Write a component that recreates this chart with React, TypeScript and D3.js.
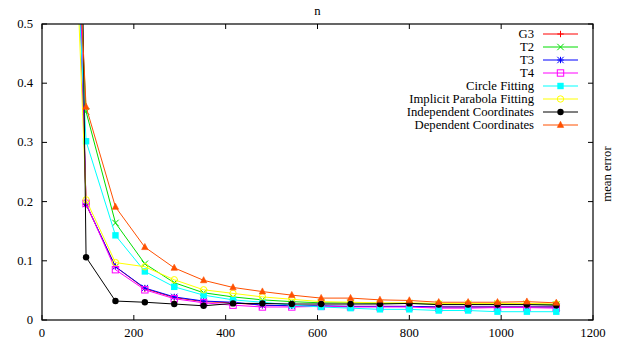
import React from "react";
import * as d3 from "d3";

const nValues = [32, 96, 160, 224, 288, 352, 416, 480, 544, 608, 672, 736, 800, 864, 928, 992, 1056, 1120];

const g3 = [1.9, 0.195, 0.09, 0.053, 0.038, 0.031, 0.029, 0.025, 0.024, 0.023, 0.023, 0.023, 0.023, 0.022, 0.022, 0.022, 0.022, 0.022];
const t2 = [1.4, 0.352, 0.164, 0.095, 0.063, 0.046, 0.039, 0.034, 0.031, 0.029, 0.029, 0.028, 0.028, 0.027, 0.027, 0.027, 0.027, 0.026];
const t3 = [1.9, 0.196, 0.09, 0.054, 0.039, 0.032, 0.03, 0.025, 0.024, 0.024, 0.023, 0.023, 0.023, 0.022, 0.022, 0.022, 0.022, 0.022];
const t4 = [1.97, 0.197, 0.085, 0.051, 0.036, 0.029, 0.025, 0.022, 0.022, 0.023, 0.022, 0.022, 0.022, 0.02, 0.02, 0.021, 0.021, 0.02];
const circleFit = [1.27, 0.302, 0.143, 0.082, 0.056, 0.042, 0.034, 0.03, 0.025, 0.022, 0.02, 0.018, 0.018, 0.016, 0.016, 0.014, 0.014, 0.014];
const parabolaFit = [1.45, 0.203, 0.097, 0.09, 0.068, 0.051, 0.045, 0.039, 0.035, 0.031, 0.03, 0.029, 0.029, 0.028, 0.028, 0.028, 0.028, 0.027];
const independent = [3.95, 0.106, 0.032, 0.03, 0.027, 0.024, 0.028, 0.028, 0.027, 0.027, 0.027, 0.027, 0.028, 0.026, 0.026, 0.026, 0.026, 0.025];
const dependent = [1.39, 0.36, 0.191, 0.123, 0.088, 0.067, 0.055, 0.048, 0.042, 0.037, 0.037, 0.034, 0.033, 0.03, 0.03, 0.03, 0.031, 0.029];

const seriesNames = ["G3", "T2", "T3", "T4", "Circle Fitting", "Implicit Parabola Fitting", "Independent Coordinates", "Dependent Coordinates"];
const seriesValues = [g3, t2, t3, t4, circleFit, parabolaFit, independent, dependent];
const seriesColors = ["#ff0000", "#00dd00", "#0000ff", "#ff00ff", "#00ffff", "#ffff00", "#000000", "#ff5000"];
const seriesMarkers = ["plus", "cross", "star", "openSquare", "square", "openCircle", "circle", "triangle"];

const xTicks = [0, 200, 400, 600, 800, 1000, 1200];
const yTicks = [0, 0.1, 0.2, 0.3, 0.4, 0.5];

const W = 623;
const H = 344;
const margin = { top: 24, right: 30, bottom: 24, left: 42 };
const FONT = "'Liberation Serif', 'DejaVu Serif', serif";
const FS = 12.7;

function Marker({ kind, x, y, color }: { kind: string; x: number; y: number; color: string }) {
  const s = 3.2;
  switch (kind) {
    case "plus":
      return <path d={`M${x - s},${y}H${x + s}M${x},${y - s}V${y + s}`} stroke={color} strokeWidth={1} />;
    case "cross":
      return <path d={`M${x - s},${y - s}L${x + s},${y + s}M${x - s},${y + s}L${x + s},${y - s}`} stroke={color} strokeWidth={1} />;
    case "star":
      return (
        <path
          d={`M${x - s},${y}H${x + s}M${x},${y - s}V${y + s}M${x - s},${y - s}L${x + s},${y + s}M${x - s},${y + s}L${x + s},${y - s}`}
          stroke={color}
          strokeWidth={1}
        />
      );
    case "openSquare":
      return <rect x={x - s} y={y - s} width={2 * s} height={2 * s} fill="none" stroke={color} strokeWidth={1} />;
    case "square":
      return <rect x={x - s} y={y - s} width={2 * s} height={2 * s} fill={color} />;
    case "openCircle":
      return <circle cx={x} cy={y} r={s} fill="none" stroke={color} strokeWidth={1} />;
    case "circle":
      return <circle cx={x} cy={y} r={s} fill={color} />;
    default:
      return <path d={`M${x},${y - s - 0.5}L${x + s},${y + s - 0.8}L${x - s},${y + s - 0.8}Z`} fill={color} stroke={color} strokeWidth={0.6} />;
  }
}

export default function App() {
  const x = d3.scaleLinear().domain([0, 1200]).range([margin.left, W - margin.right]);
  const y = d3.scaleLinear().domain([0, 0.5]).range([H - margin.bottom, margin.top]);
  const line = d3
    .line<number>()
    .x((_, i) => x(nValues[i]))
    .y((d) => y(d));

  const x0 = margin.left;
  const x1 = W - margin.right;
  const y0 = H - margin.bottom;
  const y1 = margin.top;
  const tick = 5;

  const legendTextX = 534;
  const legendLine = [543, 578];
  const legendY0 = 34;
  const legendStep = 13;

  return (
    <svg width={W} height={H} style={{ position: "absolute", left: 0, top: 0, background: "#fff" }} fontFamily={FONT}>
      <defs>
        <clipPath id="plot-clip">
          <rect x={x0} y={y1} width={x1 - x0} height={y0 - y1} />
        </clipPath>
      </defs>

      {/* ticks, mirrored on all four sides */}
      {xTicks.map((t) => (
        <g key={"x" + t}>
          <line x1={x(t)} x2={x(t)} y1={y0} y2={y0 - tick} stroke="#000" />
          <line x1={x(t)} x2={x(t)} y1={y1} y2={y1 + tick} stroke="#000" />
          <text x={x(t)} y={337} textAnchor="middle" fontSize={FS}>
            {t}
          </text>
        </g>
      ))}
      {yTicks.map((t) => (
        <g key={"y" + t}>
          <line x1={x0} x2={x0 + tick} y1={y(t)} y2={y(t)} stroke="#000" />
          <line x1={x1} x2={x1 - tick} y1={y(t)} y2={y(t)} stroke="#000" />
          <text x={33} y={y(t) + 4} textAnchor="end" fontSize={FS}>
            {d3.format("")(t)}
          </text>
        </g>
      ))}

      <g clipPath="url(#plot-clip)">
        {seriesValues.map((vals, si) => (
          <g key={seriesNames[si]}>
            <path d={line(vals) ?? ""} fill="none" stroke={seriesColors[si]} strokeWidth={1} />
            {vals.map((v, i) => (
              <Marker key={i} kind={seriesMarkers[si]} x={x(nValues[i])} y={y(v)} color={seriesColors[si]} />
            ))}
          </g>
        ))}
      </g>

      <rect x={x0} y={y1} width={x1 - x0} height={y0 - y1} fill="none" stroke="#000" strokeWidth={1.2} />

      {seriesNames.map((name, si) => {
        const ly = legendY0 + si * legendStep;
        return (
          <g key={"leg" + name}>
            <text x={legendTextX} y={ly + 4} textAnchor="end" fontSize={FS}>
              {name}
            </text>
            <line x1={legendLine[0]} x2={legendLine[1]} y1={ly} y2={ly} stroke={seriesColors[si]} strokeWidth={1} />
            <Marker kind={seriesMarkers[si]} x={(legendLine[0] + legendLine[1]) / 2} y={ly} color={seriesColors[si]} />
          </g>
        );
      })}

      <text x={(x0 + x1) / 2} y={15} textAnchor="middle" fontSize={FS}>
        n
      </text>
      <text transform={`translate(611,174) rotate(-90)`} textAnchor="middle" fontSize={FS}>
        mean error
      </text>
    </svg>
  );
}
